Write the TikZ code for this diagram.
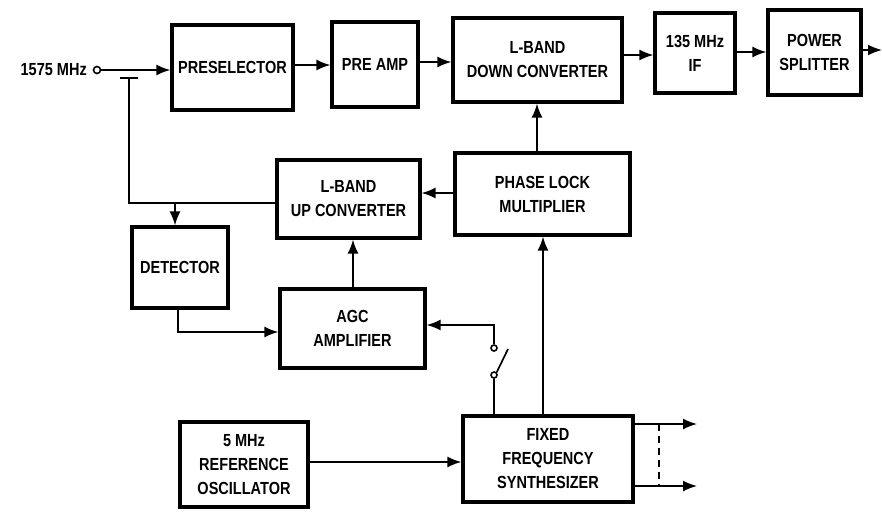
\documentclass[tikz,border=0pt]{standalone}
\usepackage{fontspec}
\setmainfont{Liberation Sans}[FakeStretch=0.83]
\usetikzlibrary{arrows.meta}
\begin{document}
\begin{tikzpicture}[x=1pt,y=-1pt,
  blk/.style={draw,line width=3.2pt,align=center,inner sep=0pt,font=\fontsize{17.5}{24}\selectfont\bfseries},
  conn/.style={line width=1.7pt},
  arr/.style={conn,-{Latex[length=14pt,width=11pt]}},
  term/.style={circle,draw,line width=1.6pt,inner sep=0pt,minimum size=7pt},
  lbl/.style={font=\fontsize{17.5}{20}\selectfont\bfseries,inner sep=0pt}]
\useasboundingbox (0,0) rectangle (882,512);
% blocks
\node[blk,minimum width=121pt,minimum height=85pt] (presel) at (232.5,67.5) {PRESELECTOR};
\node[blk,minimum width=86pt,minimum height=85pt] (preamp) at (375,64.5) {PRE AMP};
\node[blk,minimum width=169pt,minimum height=84pt] (down) at (537.5,60) {L-BAND\\DOWN CONVERTER};
\node[blk,minimum width=80pt,minimum height=80pt] (if) at (695,53) {135 MHz\\IF};
\node[blk,minimum width=93pt,minimum height=85pt] (split) at (814.5,52.5) {POWER\\SPLITTER};
\node[blk,minimum width=143pt,minimum height=78pt] (up) at (348.5,199) {L-BAND\\UP CONVERTER};
\node[blk,minimum width=175pt,minimum height=82pt] (plm) at (542.5,194) {PHASE LOCK\\MULTIPLIER};
\node[blk,minimum width=96pt,minimum height=81pt] (det) at (180,267.5) {DETECTOR};
\node[blk,minimum width=145pt,minimum height=79pt] (agc) at (352.5,328.5) {AGC\\AMPLIFIER};
\node[blk,minimum width=128pt,minimum height=85pt] (osc) at (244,464.5) {5 MHz\\REFERENCE\\OSCILLATOR};
\node[blk,minimum width=170pt,minimum height=86pt] (syn) at (548,459) {FIXED\\FREQUENCY\\SYNTHESIZER};
% input
\node[term] (in) at (97,70) {};
\node[lbl,anchor=east] (inl) at (87,70) {1575 MHz};
\draw[arr] (in.east) -- (in -| presel.west);
% coupler
\coordinate (cb1) at (120,78);
\coordinate (cb2) at (138,78);
\draw[conn] (cb1) -- (cb2);
\coordinate (cv) at (129,78);
\coordinate (cj) at (129,203);
\draw[conn] (cv) -- (cj) -- (cj -| up.west);
\coordinate (dj) at (175,203);
\draw[arr] (dj) -- (dj |- det.north);
% top chain
\coordinate (a1) at (0,65);
\draw[arr] (a1 -| presel.east) -- (a1 -| preamp.west);
\coordinate (a2) at (0,62);
\draw[arr] (a2 -| preamp.east) -- (a2 -| down.west);
\coordinate (a3) at (0,55);
\draw[arr] (a3 -| down.east) -- (a3 -| if.west);
\coordinate (a4) at (0,52);
\draw[arr] (a4 -| if.east) -- (a4 -| split.west);
\coordinate (outp) at (882,50);
\draw[arr] (outp -| split.east) -- (outp);
% PLM connections
\coordinate (b1) at (537,0);
\draw[arr] (b1 |- plm.north) -- (b1 |- down.south);
\coordinate (b2) at (0,193);
\draw[arr] (b2 -| plm.west) -- (b2 -| up.east);
\coordinate (b3) at (353,0);
\draw[arr] (b3 |- agc.north) -- (b3 |- up.south);
\coordinate (b4) at (543,0);
\draw[arr] (b4 |- syn.north) -- (b4 |- plm.south);
% detector to AGC
\coordinate (dd) at (178,0);
\coordinate (dc) at (178,332);
\draw[arr] (dd |- det.south) -- (dc) -- (dc -| agc.west);
% switch
\node[term,minimum size=6pt] (s1) at (494,348) {};
\node[term,minimum size=6pt] (s2) at (494,375) {};
\coordinate (lev) at (508,349);
\coordinate (sc) at (494,325);
\draw[conn] (s2.south) -- (s2 |- syn.north);
\draw[conn] (s2.north east) -- (lev);
\draw[arr] (s1.north) -- (sc) -- (sc -| agc.east);
% osc to synth
\coordinate (c1) at (0,462);
\draw[arr] (c1 -| osc.east) -- (c1 -| syn.west);
% synth outputs
\coordinate (o1) at (697,424);
\coordinate (o2) at (697,486);
\draw[arr] (o1 -| syn.east) -- (o1);
\draw[arr] (o2 -| syn.east) -- (o2);
\coordinate (d1) at (659,424);
\coordinate (d2) at (659,486);
\draw[conn,dash pattern=on 7pt off 5pt] (d1) -- (d2);
\end{tikzpicture}
\end{document}
